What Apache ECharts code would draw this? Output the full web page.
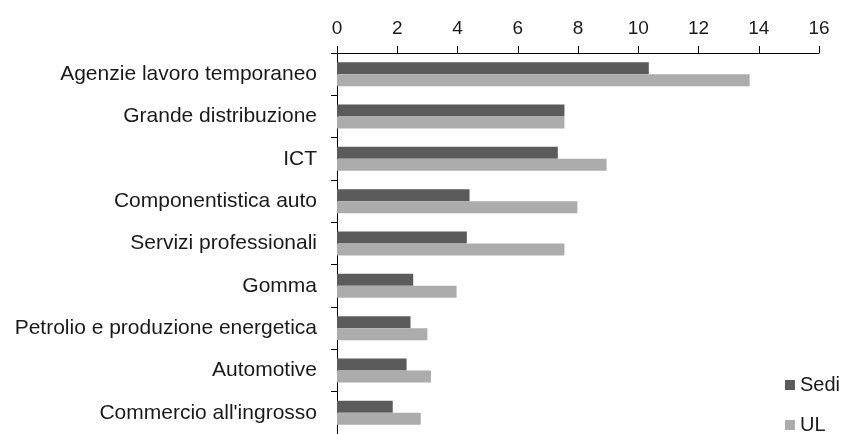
<!DOCTYPE html>
<html>
<head>
<meta charset="utf-8">
<script src="https://cdn.jsdelivr.net/npm/echarts@6/dist/echarts.min.js"></script>
<style>
  html, body { margin: 0; padding: 0; background: #fff; }
  #chart { width: 847px; height: 434px; }
</style>
</head>
<body>
<div id="chart"></div>
<script>
const categories = [
  'Agenzie lavoro temporaneo',
  'Grande distribuzione',
  'ICT',
  'Componentistica auto',
  'Servizi professionali',
  'Gomma',
  'Petrolio e produzione energetica',
  'Automotive',
  "Commercio all'ingrosso"
]
const sedi = [10.35, 7.55, 7.33, 4.4, 4.31, 2.53, 2.44, 2.31, 1.85]
const ul = [13.7, 7.55, 8.95, 7.98, 7.55, 3.97, 3.0, 3.12, 2.78]

const font = 'Liberation Sans, Arial, sans-serif'
const myChart = echarts.init(document.getElementById('chart'))

const option = {
  backgroundColor: '#fff',
  animation: false,
  grid: {
    left: 337,
    right: 28,
    top: 53,
    bottom: -2
  },
  xAxis: {
    type: 'value',
    position: 'top',
    min: 0,
    max: 16,
    interval: 2,
    axisLine: { show: true, lineStyle: { color: '#000', width: 1 } },
    axisTick: { show: true, length: 7, lineStyle: { color: '#000' } },
    axisLabel: { color: '#1a1a1a', fontSize: 19, fontFamily: font, margin: 15 },
    splitLine: { show: false }
  },
  yAxis: {
    type: 'category',
    inverse: true,
    data: categories,
    axisLine: { show: true, lineStyle: { color: '#000', width: 1 } },
    axisTick: { show: true, length: 6, lineStyle: { color: '#000' } },
    axisLabel: { color: '#1a1a1a', fontSize: 21, fontFamily: font, margin: 20 }
  },
  legend: {
    orient: 'vertical',
    right: 2,
    top: 370,
    height: 90,
    icon: 'rect',
    itemWidth: 10,
    itemHeight: 10,
    itemGap: 20,
    textStyle: { color: '#1a1a1a', fontSize: 20, lineHeight: 20, fontFamily: font },
    data: ['Sedi', 'UL']
  },
  series: [
    {
      name: 'Sedi',
      type: 'bar',
      data: sedi,
      barWidth: 12,
      barGap: '0%',
      itemStyle: { color: '#5b5b5b' }
    },
    {
      name: 'UL',
      type: 'bar',
      data: ul,
      barWidth: 12,
      barGap: '0%',
      itemStyle: { color: '#acacac' }
    }
  ]
}
myChart.setOption(option)
</script>
</body>
</html>
